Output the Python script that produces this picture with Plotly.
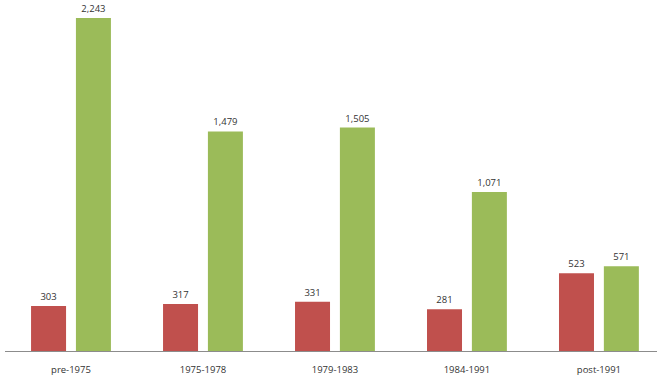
import plotly.graph_objects as go

categories = ["pre-1975", "1975-1978", "1979-1983", "1984-1991", "post-1991"]
series_red = [303, 317, 331, 281, 523]
series_green = [2243, 1479, 1505, 1071, 571]

def fmt(v):
    return f"{v:,}"

fig = go.Figure()
fig.add_trace(go.Bar(
    x=categories, y=series_red, name="A",
    marker=dict(color="#C0504D", line=dict(width=0)),
    text=[fmt(v) for v in series_red], textposition="outside",
    textfont=dict(size=9.5, color="#333333", family="Open Sans"),
    cliponaxis=False,
))
fig.add_trace(go.Bar(
    x=categories, y=series_green, name="B",
    marker=dict(color="#9BBB59", line=dict(width=0)),
    text=[fmt(v) for v in series_green], textposition="outside",
    textfont=dict(size=9.5, color="#333333", family="Open Sans"),
    cliponaxis=False,
))
fig.update_layout(
    width=657, height=382,
    margin=dict(l=5, r=0, t=0, b=31),
    paper_bgcolor="white", plot_bgcolor="white",
    showlegend=False,
    barmode="group", bargap=0.32, bargroupgap=0.22,
    font=dict(family="Open Sans", size=9.5, color="#333333"),
)
fig.update_xaxes(
    range=[-0.5, 4.44], showgrid=False, showline=True,
    linecolor="#8C8C8C", linewidth=1, ticks="", ticklabelstandoff=10,
    tickfont=dict(size=9.5, color="#333333"),
)
fig.update_yaxes(range=[0, 2364], visible=False, showgrid=False, zeroline=False)
fig.write_html("out.html")
